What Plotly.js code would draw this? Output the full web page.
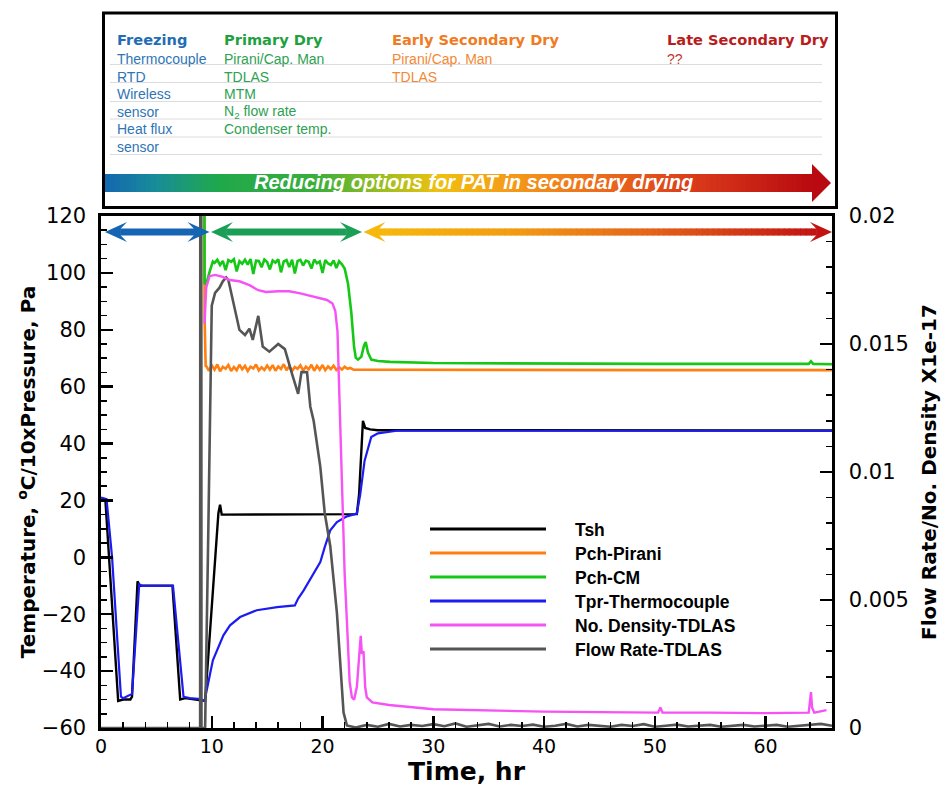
<!DOCTYPE html>
<html><head><meta charset="utf-8">
<script src="https://cdn.plot.ly/plotly-3.0.1.min.js"></script>
<style>html,body{margin:0;padding:0;background:#fff;}</style>
</head><body>
<div id="chart" style="width:946px;height:786px;"></div>
<script>
// ---------------- DATA ----------------
const seriesNames = ['Tsh','Pch-Pirani','Pch-CM','Tpr-Thermocouple','No. Density-TDLAS','Flow Rate-TDLAS'];
const seriesColors = ['#000000','#ff7f10','#16c816','#1c1cf2','#f652f6','#555555'];

const tshTime = [0,0.4,1.55,2.0,2.65,2.8,3.3,3.5,6.45,7.15,7.6,8.5,9.4,10.6,10.75,10.9,15,20,23.1,23.3,23.65,23.85,24.3,25,66];
const tshTemp = [20.5,20,-50.5,-50,-50,-49,-8.4,-10,-10,-50,-49.5,-50,-50.5,15.5,18.5,15,15,15,15.2,22,48,45.5,45,44.7,44.6];

const tprTime = [0,0.5,1.0,1.4,1.8,2.0,2.6,2.8,3.45,3.7,6.5,7.45,8.0,9.0,9.35,9.5,9.85,10.1,10.6,11.05,11.65,12.56,14.06,15.9,17.5,17.8,18.3,19.0,19.8,20.2,20.7,21.3,22.2,23.1,23.4,23.8,24.4,25,26.7,66];
const tprTemp = [21,20.5,0,-26,-49,-49.5,-48.5,-48,-9.5,-10,-10,-49,-49.5,-49.8,-50.5,-47.9,-40.9,-36.2,-31.5,-27.4,-23.9,-21,-18.6,-17.5,-16.9,-14.5,-11.6,-6.9,-1.7,3.6,9.5,12.4,14.4,15.4,22,34,42.3,43.6,44.5,44.5];

const piraniTime = [0,9.3,9.35,9.45,9.5,9.75,10,10.25,10.5,10.75,11,11.25,11.5,11.75,12,12.25,12.5,12.75,13,13.25,13.5,13.75,14,14.25,14.5,14.75,15,15.25,15.5,15.75,16,16.25,16.5,16.75,17,17.25,17.5,17.75,18,18.25,18.5,18.75,19,19.25,19.5,19.75,20,20.25,20.5,20.75,21,21.25,21.5,21.75,22,22.25,22.5,22.8,30,40,50,60,66];
const piraniVal = [300,300,85,67,67.2,65.6,67.5,66.0,67.8,65.4,67.0,66.3,67.6,65.5,66.9,65.8,67.7,66.1,67.3,65.5,67.0,66.4,67.8,65.7,66.8,65.9,67.4,66.0,67.6,65.6,67.1,66.2,67.9,65.8,67.2,65.5,66.9,66.3,67.5,65.7,67.0,66.1,67.7,65.6,67.3,66.0,67.6,65.8,67.1,66.2,67.4,65.9,66.8,66.0,67.0,66.3,66.6,66.0,65.9,65.9,65.8,65.8,65.8];

const cmTime = [0,9.25,9.35,9.6,9.85,10.1,10.25,10.5,10.75,11,11.25,11.5,11.75,12,12.25,12.5,12.75,13,13.25,13.5,13.75,14,14.25,14.5,14.75,15,15.25,15.5,15.75,16,16.25,16.5,16.75,17,17.25,17.5,17.75,18,18.25,18.5,18.75,19,19.25,19.5,19.75,20,20.25,20.5,20.75,21,21.25,21.5,21.75,22.0,22.3,22.6,22.85,23.0,23.2,23.5,23.75,23.9,24.1,24.4,25,26.1,30,40,50,63.9,64.1,64.3,66];
const cmVal = [300,300,96,97.5,101,104,103.5,104.6,102.8,104.2,101.0,104.5,103.9,104.8,100.5,104.1,103.2,104.6,102.9,104.9,99.6,104.3,104.2,102.0,104.7,103.8,101.2,104.4,103.6,104.8,100.2,104.0,104.5,102.1,104.6,99.8,104.2,104.6,102.6,104.3,103.9,101.5,104.7,103.4,104.0,100.0,104.5,103.3,102.8,104.4,101.7,104.1,103.0,101.5,96.3,86,74,70.2,69.5,70.5,74.5,75.7,72,69.5,69,68.7,68.3,68.1,68,68,68.9,68,67.9];

const densTime = [9.35,9.5,9.8,10.3,11,11.6,12.5,13.4,14.2,14.9,16,17,18,18.9,19.8,20.4,20.9,21.15,21.35,21.55,21.75,22.0,22.2,22.45,22.65,22.85,23.1,23.3,23.45,23.55,23.7,23.85,24.0,24.5,26,30,35,40,45,50.3,50.5,50.7,55,60,63.9,64.1,64.2,64.4,65.5];
const densVal = [0.0158,0.0172,0.01765,0.0177,0.01762,0.0175,0.01745,0.0173,0.0171,0.01703,0.01706,0.01706,0.01698,0.01689,0.0168,0.01672,0.01658,0.0163,0.0155,0.0125,0.0095,0.006,0.0042,0.0018,0.0012,0.0011,0.0016,0.0030,0.0036,0.0029,0.0030,0.0016,0.0012,0.0010,0.0009,0.00073,0.00068,0.00064,0.00062,0.0006,0.0008,0.0006,0.0006,0.00058,0.0006,0.0014,0.0008,0.0006,0.0007];

const flowTime = [0,8.95,8.97,9.05,9.07,9.4,9.7,10.0,10.3,10.7,11.0,11.3,11.5,11.9,12.5,13.0,13.4,13.7,14.2,14.6,15.2,16.0,16.6,17.2,17.8,18.1,18.6,18.9,19.2,19.8,20.2,20.7,21.3,21.9,22.2,23,24,25,26,27,28,29,30,31,32,33,34,35,36,37,38,39,40,41,42,43,44,45,46,47,48,49,50,51,52,53,54,55,56,57,58,59,60,61,62,63,64,65,66];
const flowVal = [0,0,0.03,0.03,0,0,0.008,0.0165,0.0170,0.0172,0.01745,0.0176,0.0175,0.0167,0.01555,0.01535,0.0156,0.01516,0.0161,0.0149,0.0147,0.0150,0.0148,0.0139,0.01305,0.0139,0.0139,0.01255,0.0120,0.0102,0.0084,0.0071,0.0045,0.0006,0.0001,0.00002,0.00012,0.00005,0.00016,0.00006,0.00012,0.00008,0.00015,0.00007,0.00018,0.00005,0.00012,0.00016,0.00006,0.00012,0.00008,0.00013,0.00005,0.00009,0.00016,0.00006,0.00012,0.00009,0.00005,0.00012,0.00008,0.00015,0.00005,0.00009,0.00013,0.00006,0.00009,0.00012,0.00005,0.00008,0.00012,0.00006,0.00009,0.00012,0.00005,0.00008,0.00012,0.00016,0.00009,0.00006];

// Header table
const phaseNames = ['Freezing','Primary Dry','Early Secondary Dry','Late Secondary Dry'];
const phaseTools = [
  ['Thermocouple','RTD','Wireless','sensor','Heat flux','sensor'],
  ['Pirani/Cap. Man','TDLAS','MTM','N<sub>2</sub> flow rate','Condenser temp.'],
  ['Pirani/Cap. Man','TDLAS'],
  ['??']
];
const phaseHeadColors = ['#1f6db4','#1fa13f','#f07b22','#b81d1d'];
const phaseToolColors = ['#2f75b5','#2ea152','#f58733','#c0392b'];
const bannerText = 'Reducing options for PAT in secondary drying';

// ---------------- LAYOUT HELPERS ----------------
const PL = 101, PR = 832, PT = 216, PB = 728;
const PX = px => (px - PL) / (PR - PL);
const PY = py => (PB - py) / (PB - PT);

function hex2rgb(h){return [parseInt(h.slice(1,3),16),parseInt(h.slice(3,5),16),parseInt(h.slice(5,7),16)];}
function gradColor(stops, t){
  for (let i=0;i<stops.length-1;i++){
    const a=stops[i], b=stops[i+1];
    if (t>=a[0] && t<=b[0]){
      const f=(t-a[0])/(b[0]-a[0]); const ca=hex2rgb(a[1]), cb=hex2rgb(b[1]);
      return 'rgb('+ca.map((v,k)=>Math.round(v+(cb[k]-v)*f)).join(',')+')';
    }
  }
  return stops[stops.length-1][1];
}
function poly(pts){ return 'M'+pts.map(p=>PX(p[0]).toFixed(5)+','+PY(p[1]).toFixed(5)).join(' L')+' Z'; }

const shapes = [];
const annotations = [];

function gradientRects(x0, x1, y0, y1, stops, n){
  const w=(x1-x0)/n;
  for(let i=0;i<n;i++){
    const a=x0+i*w, b=Math.min(x1, a+w+0.8);
    shapes.push({type:'rect',xref:'paper',yref:'paper',x0:PX(a),x1:PX(b),y0:PY(y1),y1:PY(y0),
      fillcolor:gradColor(stops,(i+0.5)/n),line:{width:0},layer:'above'});
  }
}
function doubleArrow(x0, x1, yc, stops){
  const L=22, H=10, s=3.6, nf=0.72;
  const c0=stops[0][1], c1=stops[stops.length-1][1];
  shapes.push({type:'path',xref:'paper',yref:'paper',layer:'above',fillcolor:c0,line:{width:0},
    path:poly([[x0,yc],[x0+L,yc-H],[x0+L*nf,yc-s],[x0+L*nf,yc+s],[x0+L,yc+H]])});
  shapes.push({type:'path',xref:'paper',yref:'paper',layer:'above',fillcolor:c1,line:{width:0},
    path:poly([[x1,yc],[x1-L,yc-H],[x1-L*nf,yc-s],[x1-L*nf,yc+s],[x1-L,yc+H]])});
  if (c0===c1){
    shapes.push({type:'rect',xref:'paper',yref:'paper',layer:'above',fillcolor:c0,line:{width:0},
      x0:PX(x0+L*nf-0.5),x1:PX(x1-L*nf+0.5),y0:PY(yc+s),y1:PY(yc-s)});
  } else {
    gradientRects(x0+L*nf-0.5, x1-L*nf+0.5, yc-s, yc+s, stops, 80);
  }
}

// phase arrows inside the plot
doubleArrow(105, 209.5, 232, [[0,'#1565b3'],[1,'#1565b3']]);
doubleArrow(211, 362, 232, [[0,'#1b9f57'],[1,'#1b9f57']]);
doubleArrow(363.5, 832, 232, [[0,'#f6b80c'],[0.3,'#f29c12'],[0.62,'#e4641a'],[1,'#c21212']]);

// header box
shapes.push({type:'rect',xref:'paper',yref:'paper',x0:PX(103.5),x1:PX(836.5),y0:PY(207.5),y1:PY(13),
  line:{color:'#000',width:3},fillcolor:'rgba(0,0,0,0)',layer:'above'});
const sepY = [64.5,82.5,101.5,119,137,154.5];
sepY.forEach(y=>shapes.push({type:'line',xref:'paper',yref:'paper',x0:PX(110),x1:PX(822),y0:PY(y),y1:PY(y),
  line:{color:'#dcdcdc',width:1},layer:'above'}));

// banner gradient arrow
const bannerStops = [[0,'#1466b0'],[0.07,'#188c9a'],[0.16,'#20a84c'],[0.30,'#3aae3c'],[0.40,'#a4bf1c'],[0.47,'#f0c010'],[0.57,'#f49c18'],[0.70,'#ec6c1c'],[0.84,'#d8381a'],[1,'#b80a10']];
gradientRects(105, 812.5, 174, 192, bannerStops, 140);
shapes.push({type:'path',xref:'paper',yref:'paper',layer:'above',fillcolor:'#b80a10',line:{width:0},
  path:poly([[812,164],[831,183],[812,202]])});

annotations.push({xref:'paper',yref:'paper',x:PX(473),y:PY(181.5),xanchor:'center',yanchor:'middle',showarrow:false,
  text:'<b><i>'+bannerText+'</i></b>',font:{family:'Liberation Sans',size:20,color:'#ffffff'}});

// header texts
const colX = [115,222,390,665];
const headY = 39;
const rowY = [59,76.5,94,111.5,129,146.5];
phaseNames.forEach((n,i)=>{
  annotations.push({xref:'paper',yref:'paper',x:PX(colX[i]),y:PY(headY),xanchor:'left',yanchor:'middle',showarrow:false,
    text:'<b>'+n+'</b>',font:{family:'DejaVu Sans',size:14.6,color:phaseHeadColors[i]}});
  phaseTools[i].forEach((t,j)=>{
    annotations.push({xref:'paper',yref:'paper',x:PX(colX[i]),y:PY(rowY[j]),xanchor:'left',yanchor:'middle',showarrow:false,
      text:t,font:{family:'Liberation Sans',size:14,color:phaseToolColors[i]}});
  });
});

// custom legend
const legY = [529,553,577,601,625,649];
seriesNames.forEach((n,i)=>{
  shapes.push({type:'line',xref:'paper',yref:'paper',x0:PX(430),x1:PX(546),y0:PY(legY[i]),y1:PY(legY[i]),
    line:{color:seriesColors[i],width:2.8},layer:'above'});
  annotations.push({xref:'paper',yref:'paper',x:PX(573),y:PY(legY[i]+1),xanchor:'left',yanchor:'middle',showarrow:false,
    text:'<b>'+n+'</b>',font:{family:'Liberation Sans',size:17.5,color:'#000'}});
});

// ---------------- TRACES ----------------
function tr(x,y,i,axis,w){
  return {x:x,y:y,name:seriesNames[i],type:'scatter',mode:'lines',yaxis:axis,
    line:{color:seriesColors[i],width:w||2.2},hoverinfo:'x+y+name'};
}
const data = [
  tr(piraniTime,piraniVal,1,'y',2.6),
  tr(cmTime,cmVal,2,'y',2.6),
  tr(tshTime,tshTemp,0,'y',2.4),
  tr(tprTime,tprTemp,3,'y',2.2),
  tr(flowTime,flowVal,5,'y2',2.6),
  tr(densTime,densVal,4,'y2',2.4)
];

const tickFont = {family:'DejaVu Sans',size:21,color:'#000'};
const layout = {
  width:946,height:786,
  margin:{l:PL,r:946-PR,t:PT,b:786-PB,pad:0},
  paper_bgcolor:'#ffffff',plot_bgcolor:'#ffffff',
  showlegend:false,
  font:{family:'DejaVu Sans',color:'#000'},
  xaxis:{range:[0,66],tick0:0,dtick:10,ticks:'inside',ticklen:12,tickwidth:2.5,tickcolor:'#000',
    showline:true,linewidth:2.6,linecolor:'#000',mirror:true,showgrid:false,zeroline:false,
    tickfont:{family:'DejaVu Sans',size:19,color:'#000'},ticklabelstandoff:0,automargin:false,
    minor:{ticks:'inside',ticklen:6,tickwidth:1.5,tickcolor:'#000',dtick:2,showgrid:false},
    title:{text:'<b>Time, hr</b>',font:{family:'DejaVu Sans',size:25,color:'#000'},standoff:8}},
  yaxis:{range:[-60,120],tick0:-60,dtick:20,ticks:'inside',ticklen:12,tickwidth:2.5,tickcolor:'#000',
    showline:true,linewidth:2.6,linecolor:'#000',showgrid:false,zeroline:false,
    tickfont:tickFont,ticklabelstandoff:8,automargin:false,
    minor:{ticks:'inside',ticklen:6,tickwidth:1.5,tickcolor:'#000',dtick:5,showgrid:false},
    title:{text:'<b>Temperature, <sup>o</sup>C/10xPressure, Pa</b>',font:{family:'DejaVu Sans',size:20,color:'#000'},standoff:1}},
  yaxis2:{range:[0,0.02],dtick:0.005,tick0:0,overlaying:'y',side:'right',ticks:'inside',ticklen:12,tickwidth:2.5,tickcolor:'#000',
    showline:true,linewidth:2.6,linecolor:'#000',showgrid:false,zeroline:false,
    tickfont:tickFont,ticklabelstandoff:10,automargin:false,
    minor:{ticks:'inside',ticklen:6,tickwidth:1.5,tickcolor:'#000',dtick:0.001,showgrid:false},
    title:{text:'<b>Flow Rate/No. Density X1e-17</b>',font:{family:'DejaVu Sans',size:20,color:'#000'},standoff:14}},
  shapes:shapes,
  annotations:annotations
};
Plotly.newPlot('chart',data,layout,{displayModeBar:false,staticPlot:true});
</script>
</body></html>
